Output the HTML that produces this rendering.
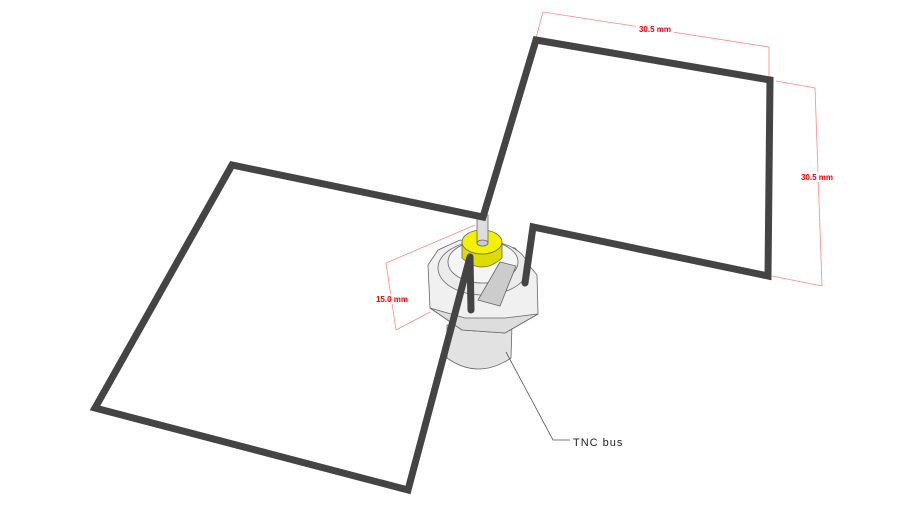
<!DOCTYPE html>
<html><head><meta charset="utf-8"><style>
html,body{margin:0;padding:0;background:#fff;}
svg{display:block;}
text{font-family:"Liberation Sans",sans-serif;}
</style></head><body>
<svg width="910" height="512" viewBox="0 0 910 512" xmlns="http://www.w3.org/2000/svg">
<g stroke="#f88" stroke-width="0.8" fill="none">
<line x1="543" y1="12" x2="536" y2="38"/>
<line x1="543" y1="12" x2="769" y2="47"/>
<line x1="769" y1="47" x2="769" y2="77"/>
<line x1="776" y1="81" x2="815" y2="88"/>
<line x1="815" y1="88" x2="822" y2="286"/>
<line x1="772" y1="276" x2="822" y2="286"/>
<line x1="475" y1="225" x2="386" y2="263"/>
<line x1="386" y1="263" x2="396" y2="330"/>
<line x1="396" y1="330" x2="430" y2="312"/>
</g>
<rect x="636" y="24" width="38" height="10" fill="#fff"/>
<text x="655" y="32" font-size="8" fill="#e00" font-weight="bold" text-anchor="middle">30.5 mm</text>
<rect x="800" y="172" width="36" height="10" fill="#fff"/>
<text x="817" y="180" font-size="8" fill="#e00" font-weight="bold" text-anchor="middle">30.5 mm</text>
<rect x="374" y="294" width="36" height="10" fill="#fff"/>
<text x="392" y="302" font-size="8" fill="#e00" font-weight="bold" text-anchor="middle">15.0 mm</text>
<g stroke="#666" stroke-width="0.8">
<path d="M447,325 L447,358 Q478,380 511,358 L512,325 Z" fill="#e2e2e2"/>
<path d="M428,265 L430,308 L462,330 L505,333 L538,314 L537,275 L515,248 L460,240 L438,250 Z" fill="#f0f0f0"/>
<path d="M430,308 L462,330 L505,333 L538,314 L505,318 L465,318 Z" fill="#ddd"/>
<ellipse cx="483" cy="268" rx="45" ry="27" fill="#ebebeb"/>
<ellipse cx="483" cy="262" rx="35" ry="21" fill="#f5f5f5"/>
<path d="M478,300 L500,262 L516,266 L500,306 Z" fill="#ccc"/>
<path d="M462,242 L462,258 Q482,276 502,258 L502,242" fill="#dcdc00"/>
<ellipse cx="482" cy="242" rx="20" ry="12" fill="#f2f200"/>
<rect x="477" y="215" width="11" height="28" fill="#ddd"/>
<ellipse cx="482.5" cy="243" rx="5.5" ry="3" fill="#ccc"/>
</g>
<g stroke="#444" stroke-width="7" fill="none" stroke-linejoin="miter" stroke-linecap="round">
<polyline points="470,257 408,490 95,408 232,165 483,217 536,40 770,80 768,276 533,227 525,283"/>
<line x1="470" y1="257" x2="471" y2="310"/>
</g>
<polyline points="506,352 553,440 570,440" stroke="#555" stroke-width="0.8" fill="none"/>
<text x="573" y="446" font-size="11" fill="#222" letter-spacing="1">TNC bus</text>
</svg>
</body></html>
